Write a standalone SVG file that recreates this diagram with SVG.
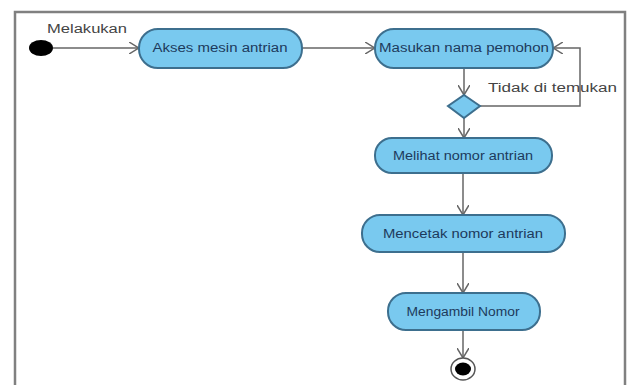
<svg xmlns="http://www.w3.org/2000/svg" width="635" height="385" viewBox="0 0 635 385">
<style>
.act{fill:#79c9ef;stroke:#3d6f8e;stroke-width:2}
.lbl{font-family:"Liberation Sans",Arial,sans-serif;font-size:12px;fill:#1d3a5c;text-anchor:middle}
.note{font-family:"Liberation Sans",Arial,sans-serif;font-size:12px;fill:#444}
.edge{fill:none;stroke:#666;stroke-width:1.5}
.frame{fill:none;stroke:#808080;stroke-width:2.5}
</style>
<defs>
<marker id="arr" viewBox="0 0 10 12" refX="10" refY="6" markerWidth="10" markerHeight="12" markerUnits="userSpaceOnUse" orient="auto">
<path d="M0,0 L10,6 L0,12" fill="none" stroke="#666" stroke-width="1.5"/>
</marker>
</defs>
<rect width="635" height="385" fill="#fff"/>
<path class="frame" d="M15,386 V12 H625 V386"/>
<g id="connectors">
<path class="edge" d="M53,48 H139" marker-end="url(#arr)"/>
<path class="edge" d="M302,48 H375" marker-end="url(#arr)"/>
<path class="edge" d="M464,68 V95" marker-end="url(#arr)"/>
<path class="edge" d="M480,106 H580 V48 H553" marker-end="url(#arr)"/>
<path class="edge" d="M464,118 V138" marker-end="url(#arr)"/>
<path class="edge" d="M463,173 V215" marker-end="url(#arr)"/>
<path class="edge" d="M463,252 V293" marker-end="url(#arr)"/>
<path class="edge" d="M463,330 V358" marker-end="url(#arr)"/>
<text class="note" x="47" y="33" textLength="80" lengthAdjust="spacingAndGlyphs">Melakukan</text>
<text class="note" x="488" y="92" textLength="129" lengthAdjust="spacingAndGlyphs">Tidak di temukan</text>
</g>
<g id="start"><ellipse cx="41" cy="48" rx="12" ry="8" fill="#000"/></g>
<g id="akses">
<rect class="act" x="139" y="29" width="163" height="39" rx="19"/>
<text class="lbl" x="220" y="52" textLength="135" lengthAdjust="spacingAndGlyphs">Akses mesin antrian</text>
</g>
<g id="masukan">
<rect class="act" x="375" y="29" width="178" height="39" rx="19"/>
<text class="lbl" x="464" y="52" textLength="170" lengthAdjust="spacingAndGlyphs">Masukan nama pemohon</text>
</g>
<g id="decision">
<path class="act" d="M464,95 L480,106 L464,118 L448,106 Z"/>
</g>
<g id="melihat">
<rect class="act" x="375" y="138" width="177" height="35" rx="17"/>
<text class="lbl" x="463" y="160" textLength="140" lengthAdjust="spacingAndGlyphs">Melihat nomor antrian</text>
</g>
<g id="mencetak">
<rect class="act" x="362" y="215" width="203" height="37" rx="18"/>
<text class="lbl" x="463" y="238" textLength="160" lengthAdjust="spacingAndGlyphs">Mencetak nomor antrian</text>
</g>
<g id="mengambil">
<rect class="act" x="388" y="293" width="152" height="37" rx="18"/>
<text class="lbl" x="463" y="316" textLength="113" lengthAdjust="spacingAndGlyphs">Mengambil Nomor</text>
</g>
<g id="end">
<ellipse cx="463" cy="369" rx="12" ry="11" fill="#fff" stroke="#555" stroke-width="1.5"/>
<ellipse cx="463" cy="369" rx="8" ry="6.5" fill="#000"/>
</g>
</svg>
